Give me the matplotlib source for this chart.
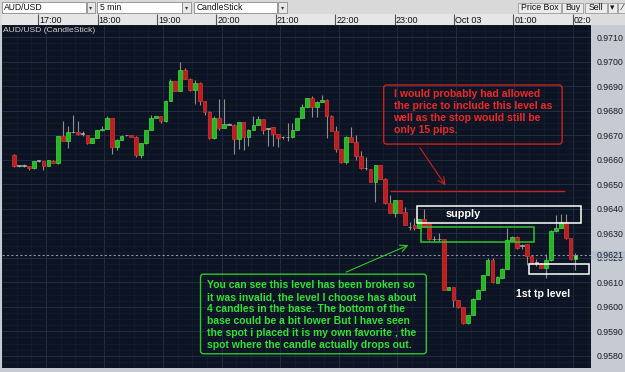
import matplotlib
matplotlib.use("Agg")
import matplotlib.pyplot as plt
from matplotlib.patches import Rectangle, FancyBboxPatch
import numpy as np

plt.rcParams['font.family'] = ['Liberation Sans', 'DejaVu Sans']

# AUD/USD 5 min candles, first bar opens 16:25 (Oct 02)
opens = [0.96621, 0.96575, 0.96576, 0.96575, 0.96565, 0.96596, 0.96594, 0.96575, 0.96596, 0.96585,
         0.96697, 0.96678, 0.96713, 0.96713, 0.96706, 0.96701, 0.96668, 0.96688, 0.96720, 0.96727,
         0.96770, 0.96651, 0.96681, 0.96700, 0.96700, 0.96693, 0.96618, 0.96667, 0.96721, 0.96770,
         0.96777, 0.96757, 0.96841, 0.96921, 0.96880, 0.96968, 0.96931, 0.96886, 0.96915, 0.96840,
         0.96796, 0.96688, 0.96770, 0.96730, 0.96743, 0.96743, 0.96685, 0.96754, 0.96693, 0.96723,
         0.96743, 0.96765, 0.96726, 0.96733, 0.96704, 0.96691, 0.96691, 0.96691, 0.96721, 0.96770,
         0.96816, 0.96853, 0.96816, 0.96836, 0.96845, 0.96780, 0.96717, 0.96644, 0.96589, 0.96693,
         0.96674, 0.96615, 0.96565, 0.96563, 0.96510, 0.96579, 0.96523, 0.96423, 0.96384, 0.96436,
         0.96387, 0.96325, 0.96334, 0.96321, 0.96358, 0.96337, 0.96275, 0.96275, 0.96275, 0.96068,
         0.96081, 0.96028, 0.95998, 0.95932, 0.95967, 0.96033, 0.96070, 0.96129, 0.96189, 0.96097,
         0.96119, 0.96156, 0.96268, 0.96285, 0.96248, 0.96255, 0.96209, 0.96180, 0.96176, 0.96159,
         0.96189, 0.96308, 0.96321, 0.96347, 0.96279, 0.96193]
highs = [0.96624, 0.96578, 0.96582, 0.96576, 0.96596, 0.96600, 0.96596, 0.96600, 0.96597, 0.96698,
         0.96759, 0.96738, 0.96783, 0.96759, 0.96717, 0.96702, 0.96689, 0.96720, 0.96737, 0.96780,
         0.96771, 0.96683, 0.96700, 0.96702, 0.96702, 0.96695, 0.96668, 0.96722, 0.96783, 0.96778,
         0.96778, 0.96842, 0.96928, 0.96922, 0.96999, 0.96975, 0.96932, 0.96924, 0.96916, 0.96841,
         0.96798, 0.96777, 0.96849, 0.96849, 0.96750, 0.96744, 0.96755, 0.96755, 0.96724, 0.96780,
         0.96780, 0.96766, 0.96730, 0.96734, 0.96704, 0.96697, 0.96750, 0.96750, 0.96771, 0.96829,
         0.96854, 0.96862, 0.96838, 0.96866, 0.96849, 0.96782, 0.96737, 0.96645, 0.96695, 0.96733,
         0.96701, 0.96635, 0.96611, 0.96564, 0.96580, 0.96580, 0.96524, 0.96457, 0.96437, 0.96437,
         0.96407, 0.96347, 0.96361, 0.96359, 0.96400, 0.96338, 0.96288, 0.96301, 0.96276, 0.96082,
         0.96082, 0.96029, 0.95999, 0.95968, 0.96034, 0.96071, 0.96130, 0.96200, 0.96200, 0.96124,
         0.96157, 0.96321, 0.96287, 0.96287, 0.96255, 0.96256, 0.96210, 0.96196, 0.96177, 0.96215,
         0.96315, 0.96374, 0.96378, 0.96378, 0.96280, 0.96220]
lows = [0.96572, 0.96572, 0.96569, 0.96559, 0.96564, 0.96590, 0.96559, 0.96574, 0.96586, 0.96584,
        0.96675, 0.96648, 0.96710, 0.96702, 0.96697, 0.96663, 0.96667, 0.96687, 0.96718, 0.96726,
        0.96624, 0.96638, 0.96681, 0.96696, 0.96691, 0.96611, 0.96609, 0.96666, 0.96720, 0.96769,
        0.96750, 0.96756, 0.96840, 0.96879, 0.96879, 0.96930, 0.96882, 0.96829, 0.96822, 0.96783,
        0.96684, 0.96684, 0.96723, 0.96729, 0.96740, 0.96624, 0.96644, 0.96638, 0.96658, 0.96722,
        0.96742, 0.96704, 0.96658, 0.96658, 0.96654, 0.96684, 0.96678, 0.96689, 0.96720, 0.96769,
        0.96815, 0.96773, 0.96773, 0.96835, 0.96687, 0.96716, 0.96631, 0.96588, 0.96583, 0.96673,
        0.96601, 0.96564, 0.96559, 0.96509, 0.96427, 0.96522, 0.96421, 0.96382, 0.96367, 0.96382,
        0.96332, 0.96315, 0.96315, 0.96320, 0.96326, 0.96273, 0.96268, 0.96268, 0.96067, 0.96067,
        0.95998, 0.95996, 0.95930, 0.95930, 0.95965, 0.96032, 0.96069, 0.96128, 0.96097, 0.96096,
        0.96118, 0.96155, 0.96267, 0.96236, 0.96235, 0.96169, 0.96179, 0.96167, 0.96158, 0.96119,
        0.96185, 0.96307, 0.96320, 0.96278, 0.96189, 0.96149]
closes = [0.96575, 0.96575, 0.96576, 0.96565, 0.96594, 0.96596, 0.96575, 0.96598, 0.96588, 0.96697,
          0.96678, 0.96714, 0.96713, 0.96704, 0.96706, 0.96668, 0.96688, 0.96720, 0.96727, 0.96770,
          0.96651, 0.96681, 0.96698, 0.96700, 0.96693, 0.96618, 0.96667, 0.96721, 0.96770, 0.96777,
          0.96757, 0.96841, 0.96921, 0.96880, 0.96968, 0.96931, 0.96886, 0.96915, 0.96840, 0.96796,
          0.96688, 0.96770, 0.96730, 0.96746, 0.96743, 0.96685, 0.96754, 0.96693, 0.96723, 0.96743,
          0.96765, 0.96720, 0.96726, 0.96704, 0.96687, 0.96691, 0.96691, 0.96721, 0.96770, 0.96816,
          0.96853, 0.96816, 0.96837, 0.96845, 0.96780, 0.96717, 0.96644, 0.96589, 0.96693, 0.96674,
          0.96615, 0.96565, 0.96565, 0.96510, 0.96579, 0.96523, 0.96423, 0.96384, 0.96436, 0.96384,
          0.96334, 0.96325, 0.96321, 0.96358, 0.96327, 0.96275, 0.96275, 0.96275, 0.96068, 0.96081,
          0.96028, 0.95998, 0.95932, 0.95967, 0.96033, 0.96070, 0.96129, 0.96189, 0.96101, 0.96123,
          0.96156, 0.96272, 0.96285, 0.96238, 0.96248, 0.96209, 0.96180, 0.96180, 0.96159, 0.96189,
          0.96308, 0.96321, 0.96347, 0.96279, 0.96193, 0.96211]
start_minute = 25      # minutes after 16:00
bar_minutes = 5

hour_labels = ["17:00", "18:00", "19:00", "20:00", "21:00", "22:00",
               "23:00", "Oct 03", "01:00", "02:00"]
hour_minutes = [60 * (k + 1) for k in range(len(hour_labels))]
price_ticks = np.round(np.arange(0.9580, 0.97105, 0.001), 4)

red_note = ("I would probably had allowed\nthe price to include this level as\n"
            "well as the stop would still be\nonly 15 pips.")
green_note = ("You can see this level has been broken so\n"
              "it was invalid, the level I choose has about\n"
              "4 candles in the base. The bottom of the\n"
              "base could be a bit lower But I have seen\n"
              "the spot i placed it is my own favorite , the\n"
              "spot where the candle actually drops out.")

o = np.array(opens); h = np.array(highs); l = np.array(lows); c = np.array(closes)
x = start_minute + bar_minutes * (np.arange(len(o)) + 0.5)
last_price = closes[-1]

W, H = 625, 372
fig = plt.figure(figsize=(6.25, 3.72), dpi=100)
fig.patch.set_facecolor('#c6cad2')

# window chrome (pixel coordinates)
ui = fig.add_axes([0, 0, 1, 1])
ui.set_xlim(0, W); ui.set_ylim(H, 0); ui.axis('off')
ui.add_patch(Rectangle((0, 0), W, 14, fc='#d9d9d9', ec='none'))
ui.add_patch(Rectangle((0, 14), W, 11, fc='#dcdcdc', ec='none'))
for name, x0, x1 in [("AUD/USD", 1.7, 86), ("5 min", 97.3, 181.7), ("CandleStick", 194, 277.3)]:
    ui.add_patch(Rectangle((x0, 1.7), x1 - x0, 11.6, fc='white', ec='#8c8c8c', lw=0.6))
    ui.text(x0 + 2.2, 7.8, name, fontsize=6.2, va='center', ha='left', color='#111111')
    ui.add_patch(Rectangle((x1 + 0.7, 1.7), 8.6, 11.6, fc='#e8e8e8', ec='#8c8c8c', lw=0.6))
    ui.text(x1 + 5, 7.6, '▾', fontsize=4.5, va='center', ha='center', color='#333333',
            family='DejaVu Sans')
for name, x0, x1 in [("Price Box", 518.3, 561), ("Buy", 562.3, 583.3), ("Sell", 585, 607.3),
                     ("▾", 608.3, 616.7), ("⁄", 617.5, 627)]:
    ui.add_patch(Rectangle((x0, 2.7), x1 - x0, 10.6, fc='#ececec', ec='#9a9a9a', lw=0.6))
    ui.text((x0 + x1) / 2, 8.0, name, fontsize=6.3, va='center', ha='center', color='#111111',
            family=['Liberation Sans', 'DejaVu Sans'])

# main price panel
ax = fig.add_axes([2 / W, 4 / H, 589 / W, 343 / H])
ax.set_facecolor('#0c1322')
xlim = (23.5, 618.4)
ax.set_xlim(*xlim)
ax.set_ylim(0.95788, 0.97146)
ax.set_xticks(hour_minutes)
ax.set_xticks(np.arange(15, 630, 15), minor=True)
ax.set_yticks(price_ticks)
ax.set_yticks(np.arange(0.9575, 0.9715, 0.00025), minor=True)
ax.set_yticklabels([f"{v:.4f}" for v in price_ticks])
ax.yaxis.tick_right()
ax.tick_params(axis='x', which='both', length=0, labelbottom=False)
ax.tick_params(axis='y', which='both', length=0, pad=4.2, labelsize=6.3, labelcolor='#1a1a1a')
ax.grid(which='major', color='#243149', lw=0.6)
ax.grid(which='minor', color='#151e31', lw=0.5)
ax.set_axisbelow(True)
for s in ax.spines.values():
    s.set_visible(False)

doji = np.abs(c - o) < 0.00003
face = np.where(doji, '#9a9a9a', np.where(c > o, '#22b822', '#bd1d1d'))
edge = np.where(doji, '#b0b0b0', np.where(c > o, '#48dc48', '#dc3434'))
face[-1] = '#5ef05e'
ax.vlines(x, l, h, color='#8e8e8e', lw=0.8, zorder=2)
ax.bar(x, np.maximum(np.abs(c - o), 0.00002), width=3.8, bottom=np.minimum(o, c),
       color=face, edgecolor=edge, linewidth=0.5, zorder=3)

ax.text(0.002, 0.993, "AUD/USD (CandleStick)", transform=ax.transAxes, va='top', ha='left',
        fontsize=6.1, color='#d0d0d0')

# current price
ax.axhline(last_price, color='#8c95a8', lw=0.8, ls=(0, (2, 2)), zorder=1.5)
ytr = ax.get_yaxis_transform()
ax.add_patch(Rectangle((1.0, last_price - 0.00018), 0.06, 0.00036, transform=ytr,
                       clip_on=False, fc='#b3bfcf', ec='none', zorder=5))
ax.text(1.0 + 5.7 / 589, last_price, f"{last_price:.4f}", transform=ytr, va='center',
        ha='left', fontsize=6.3, color='#1a1a1a', clip_on=False, zorder=6)

# annotations
asp = 0.0000392
red = '#c82222'
ax.add_patch(FancyBboxPatch((406, 0.96664), 182.8, 0.00241, boxstyle='round,pad=0,rounding_size=3',
                            mutation_aspect=asp, fc='none', ec=red, lw=1.0, zorder=4))
ax.text(416.1, 0.96795, red_note, color='#ee2828', fontsize=7.6, fontweight='bold',
        va='center', ha='left', linespacing=1.25, zorder=4)
ax.annotate('', xy=(470.9, 0.96486), xytext=(441.6, 0.96658),
            arrowprops=dict(arrowstyle='->,head_length=0.5,head_width=0.25', color=red, lw=0.8))
ax.hlines(0.96473, 412.7, 591.5, color=red, lw=1.0, zorder=4)

ax.add_patch(Rectangle((440, 0.96340), 168, 0.00071, fc='none', ec='white', lw=1.1, zorder=4))
ax.text(487.8, 0.96378, "supply", color='white', fontsize=7.8, fontweight='bold',
        ha='center', va='center', zorder=4)

green = '#2fc52f'
ax.add_patch(Rectangle((444.7, 0.96265), 115.4, 0.00061, fc='none', ec=green, lw=1.1, zorder=4))
ax.add_patch(FancyBboxPatch((218.4, 0.95808), 231.3, 0.00325, boxstyle='round,pad=0,rounding_size=3',
                            mutation_aspect=asp, fc='none', ec=green, lw=1.0, zorder=4))
ax.text(224.6, 0.95966, green_note, color='#33e033', fontsize=7.5, fontweight='bold',
        va='center', ha='left', linespacing=1.25, zorder=4)
ax.annotate('', xy=(433.9, 0.96256), xytext=(364.9, 0.96137),
            arrowprops=dict(arrowstyle='->,head_length=0.5,head_width=0.25', color=green, lw=0.8))

ax.add_patch(Rectangle((554.5, 0.96133), 62.2, 0.0004, fc='none', ec='white', lw=1.1, zorder=4))
ax.text(569.1, 0.96051, "1st tp level", color='white', fontsize=7.6, fontweight='bold',
        ha='center', va='center', zorder=4)

# time scale strip above the chart
strip = fig.add_axes([2 / W, (H - 25) / H, 589 / W, 11 / H])
strip.set_facecolor('#e6e6e6')
strip.set_xlim(*xlim); strip.set_ylim(0, 1)
strip.set_xticks([]); strip.set_yticks([])
for s in strip.spines.values():
    s.set_visible(False)
strip.vlines(hour_minutes, 0, 1, color='#555555', lw=0.8)
for m, lab in zip(hour_minutes, hour_labels):
    strip.text(m + 1.2, 0.45, lab, ha='left', va='center', fontsize=6.5, color='#111111',
               clip_on=True)

fig.savefig('out.png', dpi=100, facecolor=fig.get_facecolor())
